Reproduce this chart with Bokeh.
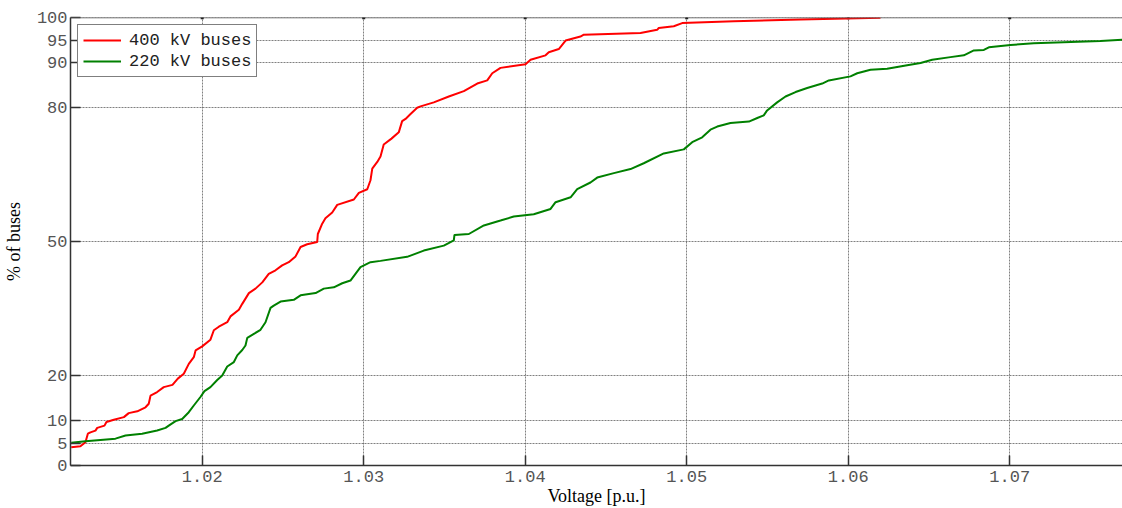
from bokeh.plotting import figure
from bokeh.models import FixedTicker, Range1d, Span
from bokeh.embed import file_html
from bokeh.resources import INLINE

# Cumulative distribution of bus voltages (per unit) for each voltage level
v400 = [1.01189, 1.01246, 1.01277, 1.01292, 1.01308, 1.01339, 1.01350, 1.01395,
        1.01407, 1.01453, 1.01515, 1.01545, 1.01598, 1.01649, 1.01669, 1.01680,
        1.01721, 1.01762, 1.01816, 1.01849, 1.01886, 1.01917, 1.01948, 1.01959,
        1.02000, 1.02051, 1.02072, 1.02103, 1.02155, 1.02175, 1.02227, 1.02248,
        1.02289, 1.02330, 1.02372, 1.02412, 1.02454, 1.02495, 1.02536, 1.02578,
        1.02609, 1.02650, 1.02712, 1.02716, 1.02743, 1.02763, 1.02805, 1.02836,
        1.02939, 1.02970, 1.03022, 1.03042, 1.03053, 1.03084, 1.03104, 1.03124,
        1.03172, 1.03217, 1.03238, 1.03259, 1.03290, 1.03331, 1.03352, 1.03434,
        1.03527, 1.03620, 1.03703, 1.03765, 1.03796, 1.03847, 1.04002, 1.04033,
        1.04126, 1.04146, 1.04208, 1.04250, 1.04342, 1.04363, 1.04714, 1.04817,
        1.04827, 1.04920, 1.04972, 1.05292, 1.05705, 1.06200]
p400 = [4.1, 4.3, 5.2, 7.1, 7.4, 7.8, 8.4, 8.9,
        9.7, 10.2, 10.8, 11.7, 12.1, 13.0, 13.8, 15.6,
        16.4, 17.5, 18.0, 19.4, 20.5, 22.7, 24.2, 25.7,
        26.6, 28.1, 30.2, 31.0, 32.0, 33.3, 34.8, 36.1,
        38.5, 39.5, 40.9, 42.8, 43.6, 44.7, 45.4, 46.7,
        48.8, 49.4, 49.9, 51.7, 54.0, 55.2, 56.5, 58.2,
        59.4, 60.9, 61.7, 63.7, 66.3, 67.8, 69.0, 71.7,
        73.0, 74.4, 76.9, 77.4, 78.5, 79.9, 80.2, 81.1,
        82.4, 83.6, 85.3, 86.0, 87.6, 88.8, 89.6, 90.6,
        91.6, 92.3, 93.0, 94.9, 95.8, 96.2, 96.6, 97.3,
        97.7, 98.1, 98.8, 99.2, 99.6, 100.0]

v220 = [1.01189, 1.01277, 1.01463, 1.01525, 1.01628, 1.01721, 1.01773, 1.01793,
        1.01835, 1.01876, 1.01917, 1.01948, 1.01989, 1.02014, 1.02051, 1.02093,
        1.02124, 1.02155, 1.02196, 1.02217, 1.02248, 1.02268, 1.02279, 1.02320,
        1.02361, 1.02392, 1.02423, 1.02443, 1.02485, 1.02567, 1.02609, 1.02702,
        1.02753, 1.02815, 1.02867, 1.02918, 1.02949, 1.02980, 1.03042, 1.03104,
        1.03269, 1.03372, 1.03496, 1.03558, 1.03562, 1.03651, 1.03744, 1.03847,
        1.03929, 1.04053, 1.04157, 1.04188, 1.04281, 1.04322, 1.04404, 1.04446,
        1.04549, 1.04652, 1.04734, 1.04858, 1.04982, 1.05034, 1.05096, 1.05147,
        1.05189, 1.05271, 1.05385, 1.05437, 1.05477, 1.05498, 1.05560, 1.05612,
        1.05674, 1.05746, 1.05839, 1.05880, 1.06014, 1.06056, 1.06138, 1.06241,
        1.06365, 1.06448, 1.06520, 1.06633, 1.06716, 1.06778, 1.06840, 1.06871,
        1.07005, 1.07149, 1.07562, 1.07750]
p220 = [5.1, 5.4, 6.0, 6.7, 7.1, 7.8, 8.4, 8.9,
        9.9, 10.4, 11.9, 13.4, 15.3, 16.6, 17.5, 19.1,
        20.1, 22.1, 23.1, 24.6, 25.8, 26.8, 28.5, 29.4,
        30.3, 32.0, 35.2, 35.7, 36.6, 37.0, 38.0, 38.5,
        39.5, 39.8, 40.7, 41.3, 42.8, 44.3, 45.4, 45.7,
        46.6, 48.0, 49.1, 50.3, 51.5, 51.7, 53.6, 54.7,
        55.6, 56.1, 57.3, 58.8, 59.9, 61.7, 63.2, 64.3,
        65.3, 66.2, 67.5, 69.7, 70.6, 72.2, 73.3, 75.0,
        75.7, 76.5, 76.8, 77.6, 78.2, 79.3, 81.1, 82.4,
        83.4, 84.3, 85.3, 86.0, 86.9, 87.6, 88.4, 88.6,
        89.4, 89.9, 90.6, 91.2, 91.6, 92.7, 92.8, 93.4,
        93.9, 94.3, 94.8, 95.2]

x_ticks = [1.02, 1.03, 1.04, 1.05, 1.06, 1.07]
y_ticks = [0, 5, 10, 20, 50, 80, 90, 95, 100]

TICK_FONT = "Liberation Mono"
LABEL_FONT = "Liberation Serif"

p = figure(width=1122, height=508, output_backend="svg", toolbar_location=None,
           x_range=Range1d(1.011845, 1.076984), y_range=Range1d(0, 100.05),
           min_border_left=70, min_border_right=0, min_border_top=17,
           min_border_bottom=43, outline_line_color=None,
           background_fill_color="white", border_fill_color="white")

# Dotted grid
for g in (p.xgrid[0], p.ygrid[0]):
    g.grid_line_color = "#555555"
    g.grid_line_dash = "2 1"
    g.grid_line_width = 1
    g.grid_line_alpha = 0.75
p.xgrid.ticker = FixedTicker(ticks=x_ticks)
p.ygrid.ticker = FixedTicker(ticks=y_ticks)

# Top edge of the axes box, with small tick marks at the voltage ticks
p.add_layout(Span(location=y_ticks[-1], dimension="width",
                  line_color="#555555", line_width=1.2))
p.scatter(x_ticks, [y_ticks[-1]] * len(x_ticks), marker="square", size=3,
          color="#111111", line_color=None)

p.line(v400, p400, color="#ff0000", line_width=2, legend_label="400 kV buses")
p.line(v220, p220, color="#008000", line_width=2, legend_label="220 kV buses")

# Axes
p.xaxis.ticker = FixedTicker(ticks=x_ticks)
p.yaxis.ticker = FixedTicker(ticks=y_ticks)
p.xaxis.axis_label = "Voltage [p.u.]"
p.yaxis.axis_label = "% of buses"
for ax in (p.xaxis[0], p.yaxis[0]):
    ax.major_label_text_font = TICK_FONT
    ax.major_label_text_font_size = "17px"
    ax.major_label_text_color = "#555555"
    ax.axis_label_text_font = LABEL_FONT
    ax.axis_label_text_font_size = "18px"
    ax.axis_label_text_font_style = "normal"
    ax.axis_label_text_color = "black"
    ax.axis_line_color = "#333333"
    ax.axis_line_width = 1.5
    ax.major_tick_in = 10
    ax.major_tick_out = 0
    ax.major_tick_line_color = "#333333"
    ax.major_tick_line_width = 1.5
    ax.minor_tick_line_color = None
p.xaxis.major_label_standoff = 5
p.xaxis.axis_label_standoff = 1
p.yaxis.major_label_standoff = 3
p.yaxis.axis_label_standoff = 10

# Legend
lg = p.legend[0]
lg.location = "top_left"
lg.margin = 7
lg.padding = 5
lg.spacing = 1
lg.label_height = 20
lg.glyph_height = 20
lg.glyph_width = 38
lg.label_standoff = 8
lg.label_text_font = TICK_FONT
lg.label_text_font_size = "17px"
lg.label_text_color = "#222222"
lg.border_line_color = "black"
lg.border_line_width = 1.5
lg.background_fill_color = "white"
lg.background_fill_alpha = 1.0

open("out.html", "w").write(file_html(p, INLINE))
